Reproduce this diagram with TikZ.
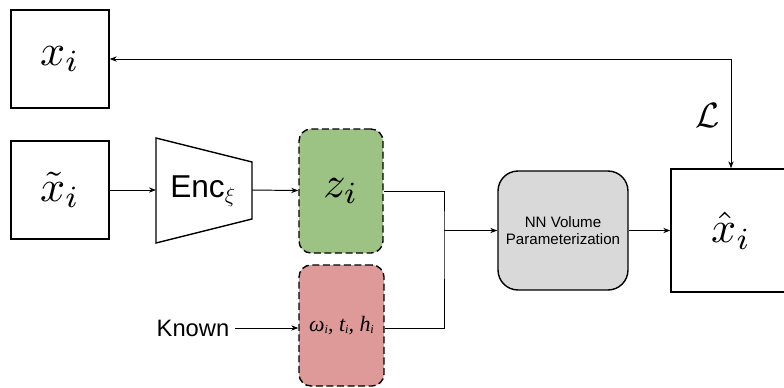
\documentclass[tikz,border=0pt]{standalone}
\usepackage{amsmath,amssymb}
\usepackage{fontspec}
\setsansfont{Liberation Sans}
\newfontfamily\timesit{Liberation Serif}
\usetikzlibrary{arrows.meta,positioning,calc}

\definecolor{zgreen}{HTML}{9DC384}
\definecolor{kred}{HTML}{DD9A98}
\definecolor{nngray}{HTML}{D9D9D9}

\newcommand{\bigmath}[1]{\scalebox{2.5}{$#1$}}

\tikzset{
  imgbox/.style={draw, line width=0.8pt, minimum width=1.96cm, minimum height=1.96cm, inner sep=0pt},
  latent/.style={draw, dash pattern=on 4pt off 2pt, line width=0.8pt, rounded corners=0.24cm, inner sep=0pt},
  flow/.style={->, line width=0.55pt},
}

\begin{document}
\begin{tikzpicture}[x=0.02cm, y=-0.02cm, >={Stealth[length=4pt,width=3pt]}]
    \useasboundingbox (0,0) rectangle (784,387);
    \clip (0,0) rectangle (784,387);

    % 输入与目标图像
    \node[imgbox] (xi) at (60,59) {\bigmath{x_i}};
    \node[imgbox] (xt) at (60,190) {\bigmath{\tilde{x}_i}};

    % 编码器 (梯形)
    \draw[line width=0.8pt] (156,138) -- (252,162) -- (252,219) -- (156,243) -- cycle;
    \coordinate (encW) at (156,190);
    \coordinate (encE) at (252,190);
    \node[font=\sffamily\fontsize{18}{20}\selectfont] (enc) at (203,191) {Enc$_\xi$};

    % 潜变量与已知参数
    \node[latent, fill=zgreen, minimum width=1.68cm, minimum height=2.48cm] (z) at (341,191) {\bigmath{z_i}};
    \node[latent, fill=kred, minimum width=1.7cm, minimum height=2.42cm, font=\timesit\itshape\fontsize{12.5}{15}\selectfont] (known) at (341.5,325.5)
        {ω\raisebox{-0.25ex}{\scriptsize i}, t\raisebox{-0.25ex}{\scriptsize i}, h\raisebox{-0.25ex}{\scriptsize i}};
    \node[font=\sffamily\fontsize{13.5}{16}\selectfont] (kn) at (193,328) {Known};
    \coordinate (kin) at (kn -| known.west);
    \coordinate (kout) at (kn -| known.east);

    % 网络与输出
    \node[draw, line width=0.8pt, fill=nngray, rounded corners=0.4cm, minimum width=2.6cm, minimum height=2.38cm, align=center, font=\sffamily\fontsize{8.6}{9.6}\selectfont] (nn) at (563,230.5) {NN Volume\\Parameterization};
    \node[imgbox, minimum width=2.4cm, minimum height=2.46cm] (xh) at (731,230.5) {\bigmath{\hat{x}_i}};

    % 连线
    \draw[flow] (xt) -- (encW);
    \draw[flow] (encE) -- (z);
    \coordinate (join) at (444,230.5);
    \draw[line width=0.55pt] (z.east) -| (join) |- (kout);
    \draw[flow] (join) -- (nn.west);
    \draw[flow] (nn) -- (xh);
    \draw[flow] (kn) -- (kin);

    % 损失反馈
    \draw[<->, line width=0.55pt] (xi.east) -| (xh.north);
    \node (loss) at (708,115) {\scalebox{2}{$\mathcal{L}$}};
\end{tikzpicture}
\end{document}
